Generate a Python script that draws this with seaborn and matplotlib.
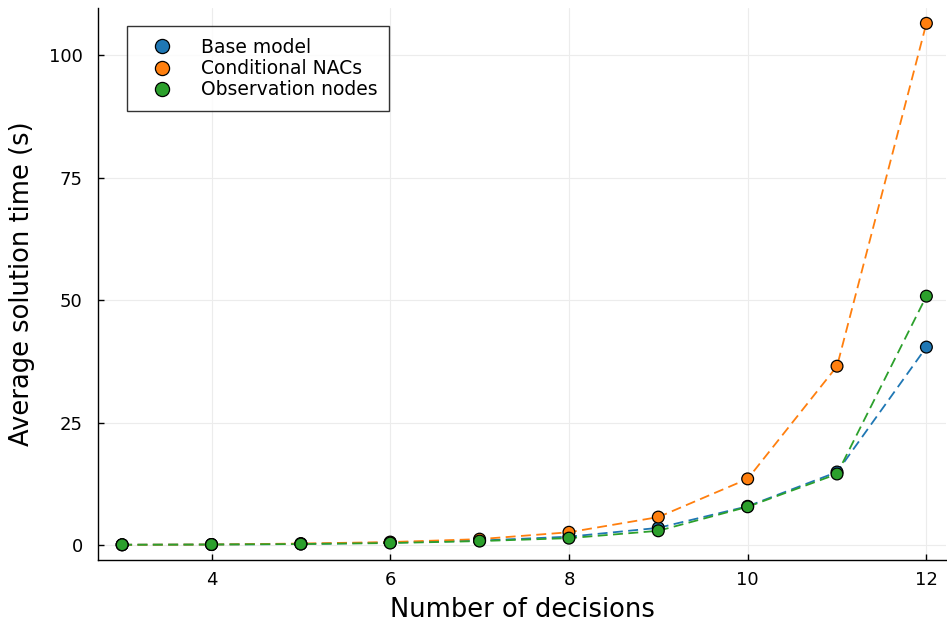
import numpy as np
import pandas as pd
import matplotlib
matplotlib.use("Agg")
import matplotlib.pyplot as plt
import seaborn as sns

decisions = [3, 4, 5, 6, 7, 8, 9, 10, 11, 12]
base_model = [0.05, 0.1, 0.2, 0.5, 0.9, 1.7, 3.5, 7.9, 14.9, 40.4]
conditional_nacs = [0.05, 0.1, 0.3, 0.6, 1.2, 2.6, 5.7, 13.5, 36.5, 106.5]
observation_nodes = [0.05, 0.1, 0.2, 0.4, 0.8, 1.4, 2.9, 7.8, 14.5, 50.8]
series_names = ["Base model", "Conditional NACs", "Observation nodes"]
colors = ["#1f77b4", "#ff7f0e", "#2ca02c"]

df = pd.concat([
    pd.DataFrame({"x": decisions, "y": vals, "series": name})
    for name, vals in zip(series_names, [base_model, conditional_nacs, observation_nodes])
])

sns.set_style("white")
plt.rcParams['font.family'] = ['DejaVu Sans']
plt.rcParams['text.color'] = 'black'
plt.rcParams['axes.labelcolor'] = 'black'
fig = plt.figure(figsize=(9.47, 6.25), dpi=100)
ax = fig.add_axes([0.1035, 0.104, 0.8955, 0.883])

palette = dict(zip(series_names, colors))
sns.lineplot(data=df, x="x", y="y", hue="series", palette=palette, ax=ax,
             linestyle=(0, (5.5, 3)), linewidth=1.3, legend=False, sort=True)
sns.scatterplot(data=df, x="x", y="y", hue="series", palette=palette, ax=ax,
                s=72, edgecolor="black", linewidth=0.9, zorder=3)

ax.set_xlim(2.73, 12.22)
ax.set_ylim(-3.06, 109.6)
ax.set_xticks([4, 6, 8, 10, 12])
ax.set_yticks([0, 25, 50, 75, 100])
ax.grid(True, color="#ececec", linewidth=0.8)
ax.set_axisbelow(True)
for s in ["top", "right"]:
    ax.spines[s].set_visible(False)
for s in ["left", "bottom"]:
    ax.spines[s].set_color("black")
    ax.spines[s].set_linewidth(1.0)
ax.tick_params(direction="in", length=4, width=1, labelsize=13, colors="black",
               bottom=True, left=True)
ax.tick_params(axis="y", pad=11)
ax.tick_params(axis="x", pad=8)
ax.set_xlabel("Number of decisions", fontsize=18.5, labelpad=6)
ax.set_ylabel("Average solution time (s)", fontsize=18.5, labelpad=10)

leg = ax.legend(loc="upper left", bbox_to_anchor=(0.034, 0.967), fontsize=13.5,
                frameon=True, fancybox=False, edgecolor="black", markerscale=1.2,
                borderpad=0.62, handletextpad=0.78, labelspacing=0.12, borderaxespad=0,
                handlelength=2.55)
leg.get_frame().set_linewidth(1.0)
for t in leg.get_texts():
    t.set_color("black")

fig.savefig("out.png", dpi=100)
